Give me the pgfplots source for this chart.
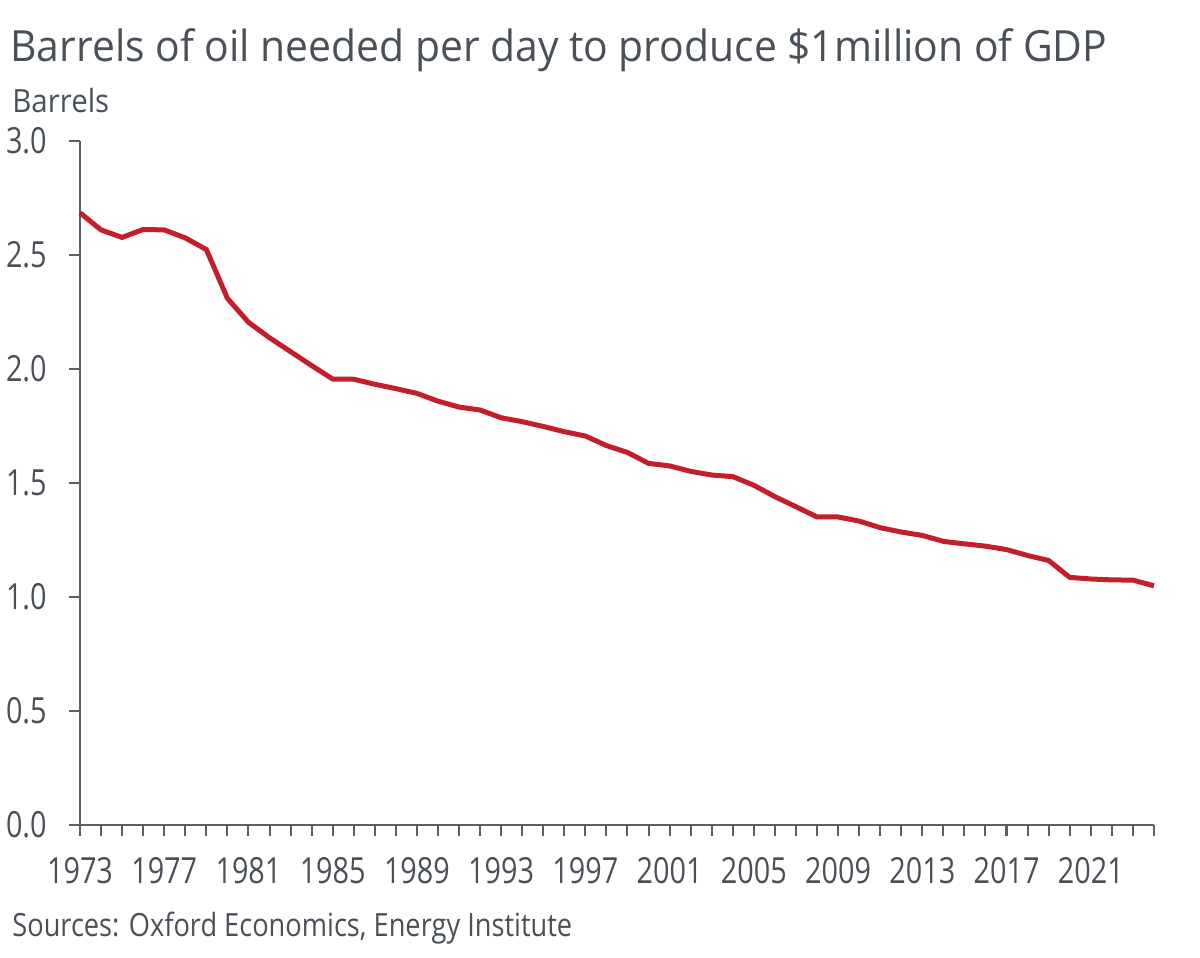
\documentclass[border=0pt]{standalone}
\usepackage{pgfplots}
\pgfplotsset{compat=1.18}
\usepackage{fontspec}
\setmainfont{Open Sans}[FakeStretch=0.8]
\newfontfamily\titlefont{Open Sans}[FakeStretch=0.95]
\newfontfamily\unitfont{Open Sans}[FakeStretch=0.92]
\newfontfamily\srcfont{Open Sans}[FakeStretch=0.85]
\definecolor{txt}{HTML}{4A5058}
\definecolor{axc}{HTML}{5A5F66}
\definecolor{oil}{HTML}{C21F2A}
\begin{document}
\begin{tikzpicture}
\begin{axis}[
  at={(0,0)}, anchor=south west,
  scale only axis, width=537pt, height=342pt,
  xmin=1973, xmax=2024, ymin=0, ymax=3,
  axis x line*=bottom, axis y line*=left,
  axis line style={axc, line width=1pt},
  tick align=outside,
  major tick length=5.5pt, minor tick length=5.5pt,
  tick style={axc, line width=1pt},
  xtick={1973,1977,...,2021},
  minor xtick={1973,...,2024},
  ytick={0,0.5,...,3.0},
  /pgf/number format/assume math mode=true,
  yticklabel style={/pgf/number format/.cd, fixed, fixed zerofill, precision=1, /tikz/.cd, font=\fontsize{18}{20}\selectfont, text=txt, inner sep=0pt, xshift=-11pt},
  xticklabel style={/pgf/number format/1000 sep={}, font=\fontsize{18}{20}\selectfont, text=txt, inner sep=0pt, yshift=-10.5pt},
  clip=false,
]
\addplot[oil, line width=2.5pt, line join=round] coordinates {
(1973,2.685) (1974,2.61) (1975,2.577) (1976,2.612) (1977,2.61) (1978,2.575)
(1979,2.524) (1980,2.31) (1981,2.205) (1982,2.137) (1983,2.076) (1984,2.015)
(1985,1.956) (1986,1.955) (1987,1.933) (1988,1.914) (1989,1.893) (1990,1.859)
(1991,1.833) (1992,1.82) (1993,1.786) (1994,1.769) (1995,1.748) (1996,1.725)
(1997,1.706) (1998,1.664) (1999,1.634) (2000,1.586) (2001,1.575) (2002,1.551)
(2003,1.535) (2004,1.528) (2005,1.49) (2006,1.44) (2007,1.396) (2008,1.351)
(2009,1.351) (2010,1.333) (2011,1.304) (2012,1.285) (2013,1.27) (2014,1.244)
(2015,1.233) (2016,1.223) (2017,1.208) (2018,1.182) (2019,1.16) (2020,1.086)
(2021,1.079) (2022,1.075) (2023,1.074) (2024,1.049)
};
\end{axis}
\node[anchor=base west, text=txt, inner sep=0pt, font=\titlefont\fontsize{21.5}{24}\selectfont] at (-35pt,381.5pt) {Barrels of oil needed per day to produce \$1million of GDP};
\node[anchor=base west, text=txt, inner sep=0pt, font=\unitfont\fontsize{16}{18}\selectfont] at (-34pt,356pt) {Barrels};
\node[anchor=base west, text=txt, inner sep=0pt, font=\srcfont\fontsize{16}{18}\selectfont] at (-34pt,-56pt) {Sources: Oxford Economics, Energy Institute};
\useasboundingbox (-40pt,-66.5pt) rectangle (560pt,412.5pt);
\end{tikzpicture}
\end{document}
